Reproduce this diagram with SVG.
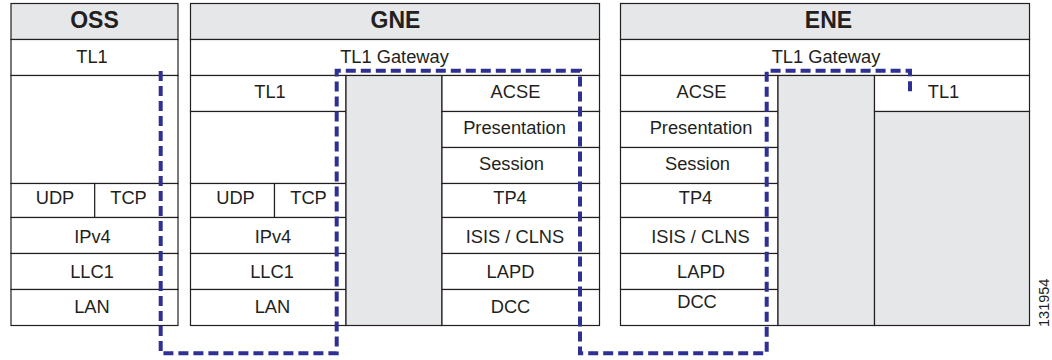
<svg xmlns="http://www.w3.org/2000/svg" width="1052" height="360" viewBox="0 0 1052 360">
<style>
  .cell { fill: #ffffff; stroke: #231f20; stroke-width: 1.2; }
  .hdr { fill: #e6e7e8; stroke: #231f20; stroke-width: 1.2; }
  .gray { fill: #e6e7e8; stroke: #231f20; stroke-width: 1.2; }
  .t { font-family: "Liberation Sans", Arial, Helvetica, sans-serif; font-size: 18.3px; fill: #231f20; text-anchor: middle; }
  .h { font-family: "Liberation Sans", Arial, Helvetica, sans-serif; font-size: 23px; font-weight: bold; fill: #231f20; text-anchor: middle; }
  .path { fill: none; stroke: #2e3192; stroke-width: 4; stroke-dasharray: 10 5; stroke-linejoin: miter; }
  .fig { font-family: "Liberation Sans", Arial, Helvetica, sans-serif; font-size: 14.5px; fill: #231f20; }
</style>

<g id="oss">
  <rect class="hdr" x="11" y="3.5" width="167" height="36"/>
  <text class="h" x="94.5" y="28.3">OSS</text>
  <g id="oss-tl1"><rect class="cell" x="11" y="39.5" width="167" height="36"/><text class="t" x="92" y="62.7">TL1</text></g>
  <g id="oss-empty"><rect class="cell" x="11" y="75.5" width="167" height="108"/></g>
  <g id="oss-udp"><rect class="cell" x="11" y="183.5" width="83.7" height="34"/><text class="t" x="55" y="204">UDP</text></g>
  <g id="oss-tcp"><rect class="cell" x="94.7" y="183.5" width="83.3" height="34"/><text class="t" x="128.5" y="204">TCP</text></g>
  <g id="oss-ipv4"><rect class="cell" x="11" y="217.5" width="167" height="36"/><text class="t" x="92.5" y="242.6">IPv4</text></g>
  <g id="oss-llc1"><rect class="cell" x="11" y="253.5" width="167" height="36"/><text class="t" x="92" y="278.3">LLC1</text></g>
  <g id="oss-lan"><rect class="cell" x="11" y="289.5" width="167" height="36"/><text class="t" x="92" y="313.3">LAN</text></g>
</g>

<g id="gne">
  <rect class="hdr" x="190.5" y="3.5" width="409" height="36"/>
  <text class="h" x="395.5" y="28.3">GNE</text>
  <g id="gne-gateway"><rect class="cell" x="190.5" y="39.5" width="409" height="36"/><text class="t" x="394.5" y="62.7">TL1 Gateway</text></g>
  <g id="gne-tl1"><rect class="cell" x="190.5" y="75.5" width="155.5" height="36"/><text class="t" x="270" y="98.3">TL1</text></g>
  <g id="gne-empty"><rect class="cell" x="190.5" y="111.5" width="155.5" height="72"/></g>
  <g id="gne-udp"><rect class="cell" x="190.5" y="183.5" width="84" height="34"/><text class="t" x="235.5" y="204">UDP</text></g>
  <g id="gne-tcp"><rect class="cell" x="274.5" y="183.5" width="71.5" height="34"/><text class="t" x="308.5" y="204">TCP</text></g>
  <g id="gne-ipv4"><rect class="cell" x="190.5" y="217.5" width="155.5" height="36"/><text class="t" x="273" y="242.6">IPv4</text></g>
  <g id="gne-llc1"><rect class="cell" x="190.5" y="253.5" width="155.5" height="36"/><text class="t" x="272" y="278.3">LLC1</text></g>
  <g id="gne-lan"><rect class="cell" x="190.5" y="289.5" width="155.5" height="36"/><text class="t" x="272.5" y="313.3">LAN</text></g>
  <g id="gne-relay"><rect class="gray" x="346" y="75.5" width="96" height="250"/></g>
  <g id="gne-acse"><rect class="cell" x="442" y="75.5" width="157.5" height="36"/><text class="t" x="515.5" y="98.3">ACSE</text></g>
  <g id="gne-pres"><rect class="cell" x="442" y="111.5" width="157.5" height="36"/><text class="t" x="514.5" y="133.5">Presentation</text></g>
  <g id="gne-session"><rect class="cell" x="442" y="147.5" width="157.5" height="36"/><text class="t" x="511.5" y="170">Session</text></g>
  <g id="gne-tp4"><rect class="cell" x="442" y="183.5" width="157.5" height="34"/><text class="t" x="510" y="204">TP4</text></g>
  <g id="gne-isis"><rect class="cell" x="442" y="217.5" width="157.5" height="36"/><text class="t" x="515" y="242.6">ISIS / CLNS</text></g>
  <g id="gne-lapd"><rect class="cell" x="442" y="253.5" width="157.5" height="36"/><text class="t" x="510.5" y="278.3">LAPD</text></g>
  <g id="gne-dcc"><rect class="cell" x="442" y="289.5" width="157.5" height="36"/><text class="t" x="510.5" y="313.3">DCC</text></g>
</g>

<g id="ene">
  <rect class="hdr" x="620.5" y="3.5" width="409" height="36"/>
  <text class="h" x="828.5" y="28.3">ENE</text>
  <g id="ene-gateway"><rect class="cell" x="620.5" y="39.5" width="409" height="36"/><text class="t" x="826" y="62.7">TL1 Gateway</text></g>
  <g id="ene-acse"><rect class="cell" x="620.5" y="75.5" width="157.5" height="36"/><text class="t" x="701.5" y="98.3">ACSE</text></g>
  <g id="ene-pres"><rect class="cell" x="620.5" y="111.5" width="157.5" height="36"/><text class="t" x="701" y="133.5">Presentation</text></g>
  <g id="ene-session"><rect class="cell" x="620.5" y="147.5" width="157.5" height="36"/><text class="t" x="697.5" y="170">Session</text></g>
  <g id="ene-tp4"><rect class="cell" x="620.5" y="183.5" width="157.5" height="34"/><text class="t" x="695.5" y="204">TP4</text></g>
  <g id="ene-isis"><rect class="cell" x="620.5" y="217.5" width="157.5" height="36"/><text class="t" x="700.5" y="242.6">ISIS / CLNS</text></g>
  <g id="ene-lapd"><rect class="cell" x="620.5" y="253.5" width="157.5" height="36"/><text class="t" x="701" y="278.3">LAPD</text></g>
  <g id="ene-dcc"><rect class="cell" x="620.5" y="289.5" width="157.5" height="36"/><text class="t" x="697" y="308.3">DCC</text></g>
  <g id="ene-relay"><rect class="gray" x="778" y="75.5" width="96.5" height="250"/></g>
  <g id="ene-tl1"><rect class="cell" x="874.5" y="75.5" width="155" height="36"/><text class="t" x="943.5" y="98.3">TL1</text></g>
  <g id="ene-empty"><rect class="gray" x="874.5" y="111.5" width="155" height="214"/></g>
</g>

<g id="connectors">
  <path class="path" d="M160.7,71 V353.3 H336.7 V70.7 H580 V353.3 H766.7 V70.7 H910 V95"/>
</g>

<text class="fig" transform="translate(1049,327) rotate(-90)">131954</text>
</svg>
